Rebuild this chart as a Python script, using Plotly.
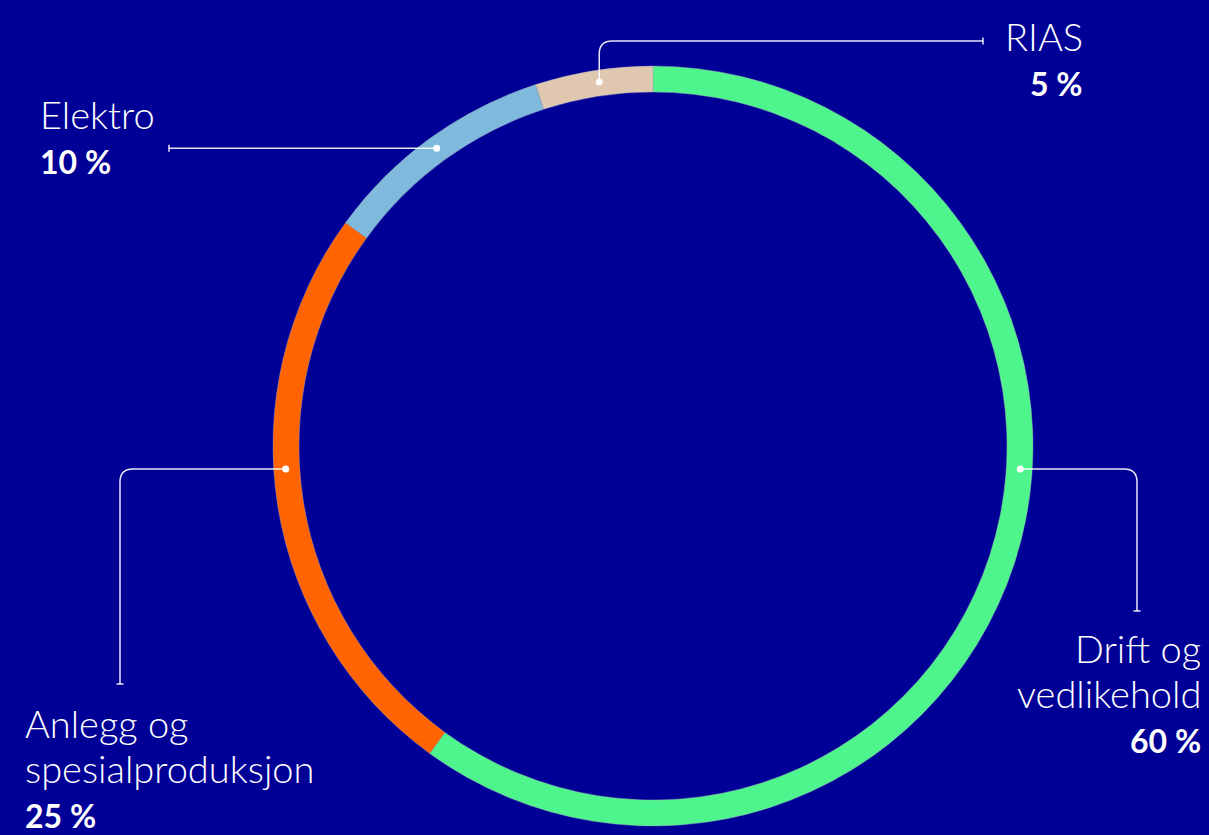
import math
import plotly.graph_objects as go

# ---- data ----
labels = ["Drift og vedlikehold", "Anlegg og spesialproduksjon", "Elektro", "RIAS"]
label_text = ["Drift og<br>vedlikehold", "Anlegg og<br>spesialproduksjon", "Elektro", "RIAS"]
values = [60, 25, 10, 5]
colors = ["#4ef58c", "#ff6400", "#7fbadc", "#dfc7b0"]

# ---- layout constants (pixels) ----
W, H = 1209, 835
CX, CY, R = 653, 446, 380
HOLE = 354 / 380
BG = "#000096"
LINE = "rgba(255,255,255,0.9)"
FONT = "Lato"
NAME_SIZE = 38
PCT_SIZE = 32
LINE_GAP = 45

def px(x, y):
    return x / W, 1 - y / H

fig = go.Figure(go.Pie(
    labels=labels, values=values, sort=False, direction="clockwise", rotation=0,
    hole=HOLE, textinfo="none", hoverinfo="label+percent",
    marker=dict(colors=colors, line=dict(color="rgba(160,160,190,0.7)", width=0.6)),
    domain=dict(x=[(CX - R) / W, (CX + R) / W], y=[1 - (CY + R) / H, 1 - (CY - R) / H]),
    showlegend=False,
))

total = sum(values)
mids = []
acc = 0
for v in values:
    mids.append((acc + v / 2) / total * 360)
    acc += v

# anchor angles: small slices at their midpoints, big slices near horizontal
anchor_angle = [93.6, 266.4, mids[2], mids[3] + 0.6]
RD = 368

def dot(i):
    a = math.radians(anchor_angle[i])
    return CX + RD * math.sin(a), CY - RD * math.cos(a)

shapes = []

def path_shape(cmds):
    return dict(type="path", xref="paper", yref="paper", path=cmds,
                line=dict(color=LINE, width=1.5))

def P(x, y):
    a, b = px(x, y)
    return f"{a:.6f},{b:.6f}"

CR = 13
# Drift og vedlikehold
dx, dy = dot(0)
xr, yb = 1137, 611
shapes.append(path_shape(f"M{P(dx,dy)} L{P(xr-CR,dy)} Q{P(xr,dy)} {P(xr,dy+CR)} L{P(xr,yb)}"))
shapes.append(path_shape(f"M{P(xr-3.5,yb)} L{P(xr+3.5,yb)}"))
# Anlegg
dx1, dy1 = dot(1)
xl, yb1 = 120, 684
shapes.append(path_shape(f"M{P(dx1,dy1)} L{P(xl+CR,dy1)} Q{P(xl,dy1)} {P(xl,dy1+CR)} L{P(xl,yb1)}"))
shapes.append(path_shape(f"M{P(xl-3.5,yb1)} L{P(xl+3.5,yb1)}"))
# Elektro
dx2, dy2 = dot(2)
xe = 169
shapes.append(path_shape(f"M{P(dx2,dy2)} L{P(xe,dy2)}"))
shapes.append(path_shape(f"M{P(xe,dy2-3.5)} L{P(xe,dy2+3.5)}"))
# RIAS
dx3, dy3 = dot(3)
yt, xend = 41, 983
shapes.append(path_shape(f"M{P(dx3,dy3)} L{P(dx3,yt+CR)} Q{P(dx3,yt)} {P(dx3+CR,yt)} L{P(xend,yt)}"))
shapes.append(path_shape(f"M{P(xend,yt-3.5)} L{P(xend,yt+3.5)}"))

for i in range(4):
    x, y = dot(i)
    ax, ay = px(x, y)
    shapes.append(dict(type="circle", xref="paper", yref="paper", xsizemode="pixel", ysizemode="pixel",
                       xanchor=ax, yanchor=ay, x0=-3.5, x1=3.5, y0=-3.5, y1=3.5,
                       fillcolor="white", line=dict(width=0)))

# text: (x px, first baseline px, align)
text_pos = [(1202, 663, "right"), (24, 738, "left"), (39, 129, "left"), (1084, 51, "right")]
annotations = []
for i in range(4):
    x, base, al = text_pos[i]
    lines = label_text[i].split("<br>")
    items = [(t, NAME_SIZE, 300) for t in lines] + [(f"{values[i]} %", PCT_SIZE, 700)]
    for k, (t, s, wgt) in enumerate(items):
        b = base + k * LINE_GAP
        top = b - 0.99 * s - 1
        ax, ay = px(x, top)
        annotations.append(dict(
            x=ax, y=ay, xref="paper", yref="paper", xanchor=al, yanchor="top", align=al,
            showarrow=False, text=t, borderpad=0,
            font=dict(family=FONT, size=s, color="white", weight=wgt)))

fig.update_layout(
    width=W, height=H, margin=dict(l=0, r=0, t=0, b=0),
    paper_bgcolor=BG, plot_bgcolor=BG,
    shapes=shapes, annotations=annotations,
)
fig.write_html("out.html", config={"displayModeBar": False},
               post_script="document.body.style.margin='0';document.body.style.overflow='hidden';")
